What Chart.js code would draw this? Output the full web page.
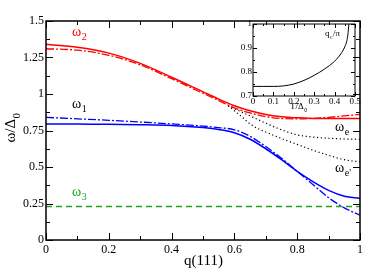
<!DOCTYPE html>
<html>
<head>
<meta charset="utf-8">
<script src="https://cdn.jsdelivr.net/npm/chart.js@4.4.0/dist/chart.umd.min.js"></script>
<style>
  html, body { margin: 0; padding: 0; background: #fff; }
  #wrap { position: relative; width: 374px; height: 280px; }
  #main { position: absolute; left: 0; top: 0; }
  #inset { position: absolute; left: 225px; top: 15px; }
</style>
</head>
<body>
<div id="wrap">
  <canvas id="main" width="374" height="280"></canvas>
  <canvas id="inset" width="140" height="100"></canvas>
</div>
<script>
// main panel: q(111) grid and branches
const qGrid = [0, 0.1, 0.2, 0.3, 0.4, 0.5, 0.55, 0.6, 0.65, 0.7, 0.75, 0.8, 0.85, 0.9, 0.95, 1];
const omega2 = [1.34, 1.32, 1.28, 1.21, 1.115, 1.015, 0.965, 0.92, 0.885, 0.86, 0.845, 0.837, 0.833, 0.832, 0.832, 0.832];
const omega2Alt = [1.31, 1.30, 1.265, 1.2, 1.105, 1.005, 0.955, 0.905, 0.87, 0.845, 0.832, 0.83, 0.833, 0.84, 0.85, 0.86];
const omega1 = [0.795, 0.795, 0.792, 0.79, 0.785, 0.77, 0.757, 0.735, 0.69, 0.625, 0.55, 0.47, 0.40, 0.34, 0.30, 0.285];
const omega1Alt = [0.84, 0.83, 0.82, 0.808, 0.795, 0.78, 0.77, 0.755, 0.71, 0.64, 0.56, 0.47, 0.38, 0.29, 0.22, 0.17];

const qEdge = [0.58, 0.62, 0.66, 0.7, 0.75, 0.8, 0.85, 0.9, 0.95, 1];
const omegaE = [0.92, 0.88, 0.84, 0.80, 0.755, 0.72, 0.705, 0.697, 0.692, 0.69];
const omegaE2 = [0.92, 0.85, 0.78, 0.74, 0.695, 0.655, 0.615, 0.58, 0.55, 0.535];

const qFlat = [0, 1];
const omega3 = [0.23, 0.23];

// inset: q_c/pi against T/Delta_0
const insetT = [0, 0.05, 0.1, 0.15, 0.2, 0.25, 0.3, 0.35, 0.4, 0.43, 0.45, 0.46, 0.465, 0.47];
const insetQc = [0.74, 0.74, 0.74, 0.742, 0.75, 0.765, 0.786, 0.812, 0.845, 0.875, 0.905, 0.93, 0.955, 1.0];

const serif = "'Liberation Serif', 'DejaVu Serif', serif";

function pts(xs, ys) {
  return xs.map((x, i) => ({ x: x, y: ys[i] }));
}

function line(xs, ys, color, dash, width) {
  return {
    data: pts(xs, ys),
    borderColor: color,
    borderWidth: width || 1.5,
    borderDash: dash || [],
    pointRadius: 0,
    fill: false,
    cubicInterpolationMode: "monotone"
  };
}

// draws text with a subscript; x,y is baseline start
function subText(ctx, main, sub, x, y, size, color) {
  ctx.fillStyle = color;
  ctx.textAlign = "left";
  ctx.textBaseline = "alphabetic";
  ctx.font = size + "px " + serif;
  ctx.fillText(main, x, y);
  const w = ctx.measureText(main).width;
  if (sub) {
    ctx.font = Math.round(size * 0.72) + "px " + serif;
    ctx.fillText(sub, x + w + 0.5, y + size * 0.3);
  }
}

// box with inward ticks on all four sides
const framePlugin = {
  id: "frame",
  afterDatasetsDraw(chart, args, o) {
    const ctx = chart.ctx;
    const a = chart.chartArea;
    const xs = chart.scales.x, ys = chart.scales.y;
    ctx.save();
    ctx.strokeStyle = "#000";
    ctx.lineWidth = 1;
    ctx.beginPath();
    const nx = Math.round((xs.max - xs.min) / o.xMinor);
    for (let i = 0; i <= nx; i++) {
      const v = xs.min + i * o.xMinor;
      const r = v / o.xMajor;
      const len = Math.abs(r - Math.round(r)) < 1e-6 ? o.major : o.minor;
      const px = Math.round(xs.getPixelForValue(v)) + 0.5;
      ctx.moveTo(px, a.bottom); ctx.lineTo(px, a.bottom - len);
      ctx.moveTo(px, a.top); ctx.lineTo(px, a.top + len);
    }
    const ny = Math.round((ys.max - ys.min) / o.yMinor);
    for (let i = 0; i <= ny; i++) {
      const v = ys.min + i * o.yMinor;
      const r = (v - ys.min) / o.yMajor;
      const len = Math.abs(r - Math.round(r)) < 1e-6 ? o.major : o.minor;
      const py = Math.round(ys.getPixelForValue(v)) + 0.5;
      ctx.moveTo(a.left, py); ctx.lineTo(a.left + len, py);
      ctx.moveTo(a.right, py); ctx.lineTo(a.right - len, py);
    }
    ctx.stroke();
    ctx.lineWidth = o.lw;
    ctx.strokeRect(a.left, a.top, a.right - a.left, a.bottom - a.top);
    ctx.restore();
  }
};

const labelPlugin = {
  id: "labels",
  afterDatasetsDraw(chart, args, o) {
    const ctx = chart.ctx;
    ctx.save();
    (o.items || []).forEach(t => {
      if (t.rotate) {
        ctx.save();
        ctx.translate(t.x, t.y);
        ctx.rotate(-Math.PI / 2);
        ctx.font = t.size + "px " + serif;
        const w = ctx.measureText(t.main).width;
        ctx.font = Math.round(t.size * 0.72) + "px " + serif;
        const ws = t.sub ? ctx.measureText(t.sub).width : 0;
        subText(ctx, t.main, t.sub, -(w + ws) / 2, 0, t.size, t.color);
        ctx.restore();
      } else {
        subText(ctx, t.main, t.sub, t.x, t.y, t.size, t.color);
      }
    });
    ctx.restore();
  }
};

Chart.register(framePlugin, labelPlugin);

const mainCtx = document.getElementById("main").getContext("2d");
new Chart(mainCtx, {
  type: "line",
  data: {
    datasets: [
      line(qFlat, omega3, "#1fa51f", [6, 4], 1.5),
      line(qGrid, omega1Alt, "#0000ff", [8, 2, 2, 2], 1.3),
      line(qGrid, omega1, "#0000ff", [], 1.5),
      line(qGrid, omega2Alt, "#ff0000", [8, 2, 2, 2], 1.3),
      line(qGrid, omega2, "#ff0000", [], 1.5),
      line(qEdge, omegaE, "#000000", [1.2, 2.6], 1.2),
      line(qEdge, omegaE2, "#000000", [1.2, 2.6], 1.2)
    ]
  },
  options: {
    responsive: false,
    devicePixelRatio: 1,
    animation: false,
    layout: { padding: { left: 0, top: 21, right: 14, bottom: 0 } },
    plugins: {
      legend: { display: false },
      tooltip: { enabled: false },
      frame: { xMajor: 0.2, xMinor: 0.1, yMajor: 0.25, yMinor: 0.125, major: 7, minor: 4, lw: 1.5 },
      labels: {
        items: [
          { main: "ω", sub: "2", x: 72, y: 36, size: 14, color: "#ff0000" },
          { main: "ω", sub: "1", x: 72, y: 108, size: 14, color: "#000000" },
          { main: "ω", sub: "3", x: 72, y: 196, size: 14, color: "#1fa51f" },
          { main: "ω", sub: "e", x: 335, y: 131, size: 14, color: "#000000" },
          { main: "ω", sub: "e'", x: 335, y: 172, size: 14, color: "#000000" },
          { main: "q(111)", sub: "", x: 184, y: 265, size: 15, color: "#000000" },
          { main: "ω/Δ", sub: "0", x: 15, y: 128, size: 15, color: "#000000", rotate: true }
        ]
      }
    },
    scales: {
      x: {
        type: "linear",
        min: 0,
        max: 1,
        grid: { display: false, drawTicks: false },
        border: { display: false },
        ticks: {
          stepSize: 0.2,
          autoSkip: false,
          maxRotation: 0,
          padding: 3,
          color: "#000",
          font: { family: serif, size: 12 },
          callback: v => String(Math.round(v * 10) / 10)
        },
        afterFit: s => { s.height = 40; }
      },
      y: {
        type: "linear",
        min: 0,
        max: 1.5,
        grid: { display: false, drawTicks: false },
        border: { display: false },
        ticks: {
          stepSize: 0.25,
          autoSkip: false,
          padding: 2,
          color: "#000",
          font: { family: serif, size: 12 },
          callback: v => String(v)
        },
        afterFit: s => { s.width = 46; }
      }
    }
  }
});

const insetCtx = document.getElementById("inset").getContext("2d");
new Chart(insetCtx, {
  type: "line",
  data: {
    datasets: [line(insetT, insetQc, "#000000", [], 1)]
  },
  options: {
    responsive: false,
    devicePixelRatio: 1,
    animation: false,
    layout: { padding: { left: 0, top: 9, right: 10, bottom: 0 } },
    plugins: {
      legend: { display: false },
      tooltip: { enabled: false },
      frame: { xMajor: 0.1, xMinor: 0.05, yMajor: 0.1, yMinor: 0.05, major: 4, minor: 2, lw: 1 },
      labels: {
        items: [
          { main: "T/Δ", sub: "0", x: 65, y: 94, size: 9, color: "#000000" },
          { main: "q", sub: "c", x: 100, y: 21, size: 9, color: "#000000" },
          { main: "/π", sub: "", x: 108, y: 21, size: 9, color: "#000000" }
        ]
      }
    },
    scales: {
      x: {
        type: "linear",
        min: 0,
        max: 0.5,
        grid: { display: false, drawTicks: false },
        border: { display: false },
        ticks: {
          stepSize: 0.1,
          autoSkip: false,
          maxRotation: 0,
          padding: 0,
          color: "#000",
          font: { family: serif, size: 9 },
          callback: v => String(Math.round(v * 10) / 10)
        },
        afterFit: s => { s.height = 19; }
      },
      y: {
        type: "linear",
        min: 0.7,
        max: 1,
        grid: { display: false, drawTicks: false },
        border: { display: false },
        ticks: {
          stepSize: 0.1,
          autoSkip: false,
          padding: 1,
          color: "#000",
          font: { family: serif, size: 9 },
          callback: v => String(Math.round(v * 10) / 10)
        },
        afterFit: s => { s.width = 28; }
      }
    }
  }
});
</script>
</body>
</html>
